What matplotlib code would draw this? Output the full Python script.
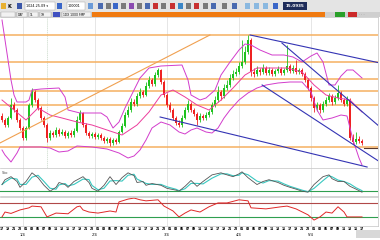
import matplotlib
matplotlib.use("Agg")
import matplotlib.pyplot as plt
import matplotlib.transforms as mtransforms
import pandas as pd
from matplotlib.patches import Rectangle

W, H = 380, 240

# hourly bars in chart units; each bar opens at the previous close
first_open = 52
close = [48, 43, 50, 63, 58, 48, 40, 30, 40, 63,
         76, 68, 60, 50, 43, 30, 35, 33, 38, 34,
         36, 32, 35, 33, 37, 48, 55, 43, 35, 32,
         34, 31, 33, 30, 27, 29, 25, 28, 26, 36,
         42, 53, 58, 66, 64, 72, 76, 73, 82, 88,
         84, 93, 98, 86, 73, 63, 58, 50, 45, 43,
         50, 58, 64, 58, 54, 48, 52, 50, 53, 56,
         63, 68, 76, 72, 80, 83, 90, 94, 96, 102,
         106, 116, 128, 96, 94, 98, 96, 100, 95, 98,
         94, 97, 99, 95, 98, 102, 97, 100, 96, 98,
         94, 88, 80, 70, 60, 63, 58, 64, 68, 72,
         66, 70, 75, 68, 64, 68, 30, 26, 29, 27,
         25]
high = [55, 50, 52, 70, 66, 60, 50, 42, 42, 65,
        80, 78, 70, 62, 52, 45, 38, 37, 41, 40,
        39, 38, 37, 38, 40, 52, 58, 56, 45, 37,
        36, 36, 35, 35, 32, 31, 31, 30, 30, 38,
        45, 56, 62, 70, 69, 75, 80, 78, 86, 92,
        90, 96, 100, 99, 88, 75, 66, 60, 52, 48,
        53, 61, 68, 66, 60, 56, 55, 54, 56, 58,
        66, 72, 82, 78, 84, 88, 94, 98, 100, 106,
        128, 122, 133, 130, 100, 102, 100, 104, 102, 101,
        100, 99, 102, 101, 100, 123, 104, 103, 108, 100,
        100, 96, 90, 82, 72, 66, 65, 67, 71, 75,
        74, 73, 83, 77, 70, 72, 70, 34, 36, 32,
        29]
low = [46, 41, 41, 49, 56, 46, 38, 28, 28, 39,
       61, 66, 58, 48, 41, 26, 28, 31, 31, 32,
       33, 30, 30, 31, 31, 36, 46, 41, 33, 30,
       30, 29, 29, 28, 25, 25, 22, 23, 24, 25,
       35, 41, 51, 56, 62, 62, 70, 71, 72, 80,
       82, 82, 91, 84, 71, 61, 56, 48, 43, 41,
       41, 49, 56, 56, 52, 43, 46, 48, 48, 51,
       54, 61, 66, 68, 70, 78, 81, 88, 92, 94,
       100, 104, 114, 92, 91, 92, 93, 94, 93, 93,
       92, 92, 95, 93, 93, 96, 95, 95, 94, 94,
       92, 86, 78, 67, 56, 57, 55, 56, 62, 66,
       63, 64, 68, 66, 62, 62, 28, 24, 24, 25,
       23]

# bands (bar index, value)
upper_x = [0, 1, 2, 3, 4, 5, 8, 9, 10, 13, 19, 21, 22, 26, 33, 35, 37, 39, 41, 44,
           46, 49, 53, 60, 62, 63, 66, 68, 71, 73, 76, 79, 81, 83, 86, 90, 94, 97,
           100, 103, 105, 107, 109, 111, 113, 115, 117, 120]
upper = [148, 128, 108, 88, 73, 66, 66, 68, 78, 79, 80, 71, 58, 55, 55, 51, 40, 46, 60, 78,
         90, 100, 102, 103, 88, 73, 68, 70, 78, 93, 106, 118, 124, 123, 118, 113, 113, 111,
         106, 112, 115, 106, 83, 83, 92, 98, 98, 90]
lower_x = [0, 1, 3, 5, 6, 13, 16, 19, 22, 25, 30, 35, 39, 42, 44, 46, 48, 50, 53, 56,
           59, 61, 63, 65, 68, 70, 72, 74, 76, 79, 82, 85, 88, 92, 96, 100, 103, 105,
           107, 110, 113, 115, 117, 119, 120]
lower = [18, 13, 6, 15, 21, 21, 20, 16, 17, 22, 21, 19, 15, 10, 12, 18, 28, 40, 46, 43,
         36, 34, 38, 40, 36, 35, 40, 50, 58, 68, 75, 80, 83, 85, 86, 86, 76, 58,
         48, 50, 53, 52, 28, 10, 3]
mid_x = [0, 4, 8, 12, 16, 20, 25, 30, 35, 40, 45, 49, 53, 57, 61, 65, 69, 73, 77, 81,
         85, 90, 95, 100, 104, 108, 112, 116, 120]
mid = [68, 58, 48, 60, 53, 50, 46, 43, 38, 33, 43, 56, 73, 78, 71, 63, 58, 68, 80, 93,
       100, 100, 100, 96, 83, 73, 70, 68, 56]

# drawn objects
h_levels = [133, 106, 89, 77, 63, 21]
trend_up = [(-0.7, 25), (69.3, 133)]
trend_down = [[(82.7, 133), (126, 105)],
              [(93.3, 125), (126, 41)],
              [(86.7, 83), (126, 6)],
              [(52.7, 51), (121.7, 1)]]
last_price = 20

# stochastic %K
stoch_x = [0, 1, 3, 5, 6, 8, 10, 12, 14, 16, 18, 19, 21, 22, 24, 27, 29, 30, 32, 34,
           36, 38, 40, 42, 44, 45, 47, 48, 50, 53, 55, 58, 59, 61, 63, 65, 67, 70, 73, 75,
           77, 79, 80, 82, 85, 87, 89, 92, 94, 96, 98, 100, 102, 104, 107, 109, 110, 112,
           114, 116, 118, 120]
stoch_k = [45, 64, 76, 57, 34, 57, 91, 72, 42, 19, 34, 53, 45, 34, 57, 76, 53, 30, 19, 42,
           76, 45, 72, 91, 80, 53, 57, 42, 49, 42, 30, 23, 19, 38, 61, 38, 57, 83, 91, 83,
           76, 87, 95, 72, 45, 57, 64, 53, 42, 34, 27, 19, 15, 45, 76, 83, 68, 57,
           57, 38, 27, 15]

# RSI
rsi_x = [0, 1, 3, 6, 9, 10, 13, 15, 18, 22, 25, 26, 27, 29, 32, 36, 38, 39, 42, 44,
         46, 48, 52, 54, 57, 59, 61, 63, 66, 69, 72, 75, 79, 82, 83, 88, 93, 95, 98, 102,
         104, 106, 108, 110, 112, 114, 115, 120]
rsi = [30, 44, 40, 50, 56, 61, 59, 30, 41, 39, 59, 61, 50, 44, 41, 47, 44, 73, 81, 84,
       79, 76, 79, 61, 47, 30, 41, 50, 44, 59, 70, 70, 79, 76, 56, 53, 59, 61, 53, 36,
       21, 30, 44, 41, 59, 44, 30, 30]

day_bars = [7, 31, 55, 79, 103]
day_labels = ["1/4", "2/4", "3/4", "4/4", "5/4"]
cursor_bar = 15

UP, DOWN = "#1fc21f", "#ee2222"
XLIM = (-0.67, 125.33)

fig = plt.figure(figsize=(W / 100, H / 100), dpi=100)
fig.patch.set_facecolor("white")


def px_axes(x0, y0, x1, y1):
    ax = fig.add_axes([x0 / W, 1 - y1 / H, (x1 - x0) / W, (y1 - y0) / H])
    ax.set_xlim(*XLIM)
    ax.set_xticks([])
    ax.set_yticks([])
    for side, sp in ax.spines.items():
        sp.set_color("#c4c4c4")
        sp.set_linewidth(0.5)
    ax.spines["left"].set_visible(False)
    for b in day_bars:
        ax.axvline(b, color="#dcdcdc", lw=0.5, zorder=0)
    return ax


def px_rect(x, y, w, h, color, ec="none"):
    fig.patches.append(Rectangle((x / W, 1 - (y + h) / H), w / W, h / H,
                                 transform=fig.transFigure, fc=color, ec=ec, lw=0.3))


def px_text(x, y, s, size=2.6, **kw):
    fig.text(x / W, 1 - y / H, s, va="center", fontsize=size, **kw)


# ---- price panel
ax = px_axes(0, 17, 378, 168)
ax.set_ylim(0, 151)
ax.axvline(cursor_bar, color="#c8d8c8", lw=0.5, ls=(0, (2, 1)), zorder=0)
for lv in h_levels:
    ax.axhline(lv, color="#f5b060", lw=1.1, zorder=1)

opens = [first_open] + close[:-1]
xs = list(range(len(close)))
colors = [UP if c >= o else DOWN for o, c in zip(opens, close)]
ax.vlines(xs, low, high, colors=colors, lw=0.6, zorder=2)
ax.bar(xs, [c - o for o, c in zip(opens, close)], bottom=opens, width=0.6,
       color=colors, lw=0, zorder=3)

ax.plot(upper_x, upper, color="#d23ccc", lw=0.7, zorder=4)
ax.plot(lower_x, lower, color="#d23ccc", lw=0.7, zorder=4)
ax.plot(mid_x, mid, color="#ec3c9c", lw=0.7, zorder=4)

(ux0, uy0), (ux1, uy1) = trend_up
ax.plot([ux0, ux1], [uy0, uy1], color="#f0a050", lw=0.8, zorder=5)
for (x0, y0), (x1, y1) in trend_down:
    ax.plot([x0, x1], [y0, y1], color="#3434b4", lw=0.8, zorder=5)
ax.plot([len(close) - 0.5, XLIM[1]], [last_price, last_price], color="#5a3a30", lw=0.8, zorder=5)

# ---- stochastic panel
ax2 = px_axes(0, 168, 378, 196)
ax2.set_ylim(0, 110)
ax2.axhline(20, color="#2f9f4f", lw=0.8)
stoch_d = pd.Series(stoch_k).rolling(2, min_periods=1).mean()
ax2.plot(stoch_x, stoch_d, color="#38c8c0", lw=0.8)
ax2.plot(stoch_x, stoch_k, color="#555555", lw=0.6)
ax2.text(0.005, 0.8, "Sto", transform=ax2.transAxes, fontsize=2.8, color="#555555")

# ---- RSI panel
ax3 = px_axes(0, 197, 378, 226)
ax3.set_ylim(4, 87)
ax3.axhline(70, color="#b04848", lw=0.8)
ax3.axhline(30, color="#2f9f4f", lw=0.8)
ax3.plot(rsi_x, rsi, color="#e02828", lw=0.7)

# ---- time axis
tr = mtransforms.blended_transform_factory(ax3.transData, fig.transFigure)
for b in range(0, len(close), 2):
    hour = (b - day_bars[0]) % 24
    fig.text(b, 1 - 229 / H, f"{hour:02d}", transform=tr, fontsize=2.2,
             fontweight="bold", ha="center", va="center")
for b, lab in zip(day_bars, day_labels):
    fig.text(b, 1 - 234.5 / H, lab, transform=tr, fontsize=2.6, ha="center", va="center")
px_rect(356, 230, 24, 8, "#d8d8d8")

# ---- toolbar chrome
px_rect(0, 0, W, 12, "#e4e4e4")
icons = [(1, "#e8b030"), (17, "#3a56a8"), (57, "#3a66c8"), (88, "#6a9ad8"),
         (98, "#4a6ab0"), (106, "#7a7a7a"), (113, "#3a66c8"), (121, "#7a7a7a"),
         (129, "#8a4ab0"), (137, "#7a7a7a"), (145, "#4a6ab0"), (153, "#c83030"),
         (161, "#7a7a7a"), (170, "#c83030"), (178, "#3a86c8"), (186, "#7a7a7a"),
         (194, "#c83030"), (203, "#7a7a7a"), (211, "#4a6ab0"), (222, "#7a7a7a"),
         (232, "#4a6ab0"), (245, "#8ab8e0"), (254, "#8ab8e0"), (263, "#8ab8e0"),
         (273, "#3a66c8")]
for x, c in icons:
    px_rect(x, 3, 5, 6, c)
px_text(8, 6, "K", size=3.5, fontweight="bold")
px_rect(25, 2.5, 30, 7, "white", ec="#a0a0a0")
px_text(26, 6, "1024.25.09 ▾", size=2.4)
px_rect(67, 2.5, 18, 7, "white", ec="#a0a0a0")
px_text(68, 6, "100001", size=2.4)
px_rect(283, 2, 24, 8, "#1e2c5a")
px_text(286, 6, "15.0935", size=3, color="white", fontweight="bold")

px_rect(0, 12, W, 5, "#cfcfcf")
for x, w, lab in [(1, 14, ""), (17, 10, "DAY"), (29, 9, "1L"), (40, 11, "1H"),
                  (62, 29, "1DX 1XXX FMP")]:
    px_rect(x, 12.5, w, 4, "#f2f2f2", ec="#a8a8a8")
    px_text(x + 1, 14.5, lab, size=2.2)
px_rect(53, 12.5, 7, 4, "#4050c0")
px_rect(92, 12, 233, 5, "#f07a10")
px_rect(335, 12.5, 10, 4, "#2aa02a")
px_rect(348, 12.5, 9, 4, "#cc2a2a")
px_text(359, 14.5, "\u00b7 \u00b7 \u00b7", size=2.4, color="#666666")

fig.savefig("out.png", dpi=100)
